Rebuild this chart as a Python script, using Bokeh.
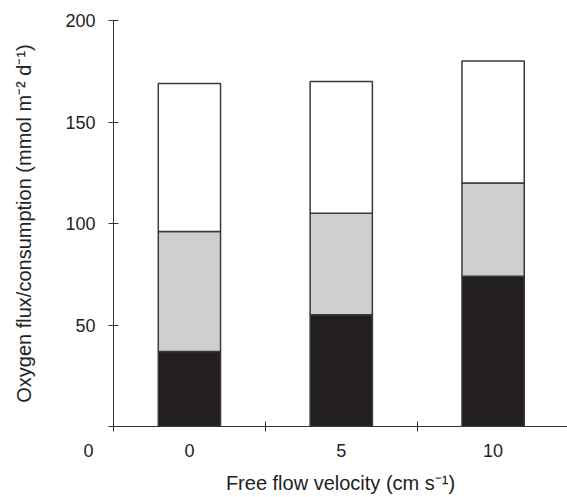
from bokeh.plotting import figure
from bokeh.models import FixedTicker, Range1d, ColumnDataSource
from bokeh.embed import file_html
from bokeh.resources import INLINE

# data
categories = ["0", "5", "10"]          # free flow velocity (cm s-1)
seg_black = [37, 55, 74]               # lower segment
seg_grey = [59, 50, 46]                # middle segment
seg_white = [73, 65, 60]               # upper segment
y_ticks = [0, 50, 100, 150, 200]
colors = ["#231f20", "#cdcfd1", "#ffffff"]

FONT = "Liberation Sans"
FS = "18px"
FS_LABEL = "20px"
TXT = "#222222"

xpos = [i + 0.5 for i in range(len(categories))]
src = ColumnDataSource(dict(x=xpos, black=seg_black, grey=seg_grey, white=seg_white))

p = figure(width=567, height=497, output_backend="svg", toolbar_location=None,
           x_range=Range1d(0, 2.99), y_range=Range1d(0, 200),
           min_border_left=113, min_border_right=0, min_border_top=20,
           min_border_bottom=71)

p.vbar_stack(["black", "grey", "white"], x="x", width=0.41, source=src,
             fill_color=colors, line_color="#3a3a3a", line_width=1.5)

p.xgrid.visible = False
p.ygrid.visible = False
p.outline_line_color = None
p.background_fill_color = "white"

# x axis; the y axis' own "0" sits detached at the lower left, carried here
xa = p.xaxis[0]
xa.ticker = FixedTicker(ticks=[0] + xpos, minor_ticks=list(range(len(categories) + 1)))
overrides = {xv: c for xv, c in zip(xpos, categories)}
overrides[0] = str(y_ticks[0]) + "\u00a0" * 10
xa.major_label_overrides = overrides
xa.major_tick_in = 0
xa.major_tick_out = 0
xa.minor_tick_in = 5
xa.minor_tick_out = 5
xa.minor_tick_line_color = "#333333"
xa.major_label_standoff = 9
xa.axis_label = "Free flow velocity (cm s\u207b\u00b9)"
xa.axis_label_standoff = 8

# y axis
ya = p.yaxis[0]
ya.ticker = FixedTicker(ticks=y_ticks, minor_ticks=[])
ya.major_label_overrides = {0: ""}
ya.major_tick_in = 5
ya.major_tick_out = 5
ya.major_label_standoff = 13
ya.axis_label = "Oxygen flux/consumption (mmol m\u207b\u00b2 d\u207b\u00b9)"
ya.axis_label_standoff = 27

for ax in (xa, ya):
    ax.axis_line_color = "#333333"
    ax.major_tick_line_color = "#333333"
    ax.major_label_text_font = FONT
    ax.major_label_text_font_size = FS
    ax.major_label_text_color = TXT
    ax.axis_label_text_font = FONT
    ax.axis_label_text_font_size = FS_LABEL
    ax.axis_label_text_font_style = "normal"
    ax.axis_label_text_color = TXT

open("out.html", "w").write(file_html(p, INLINE))
